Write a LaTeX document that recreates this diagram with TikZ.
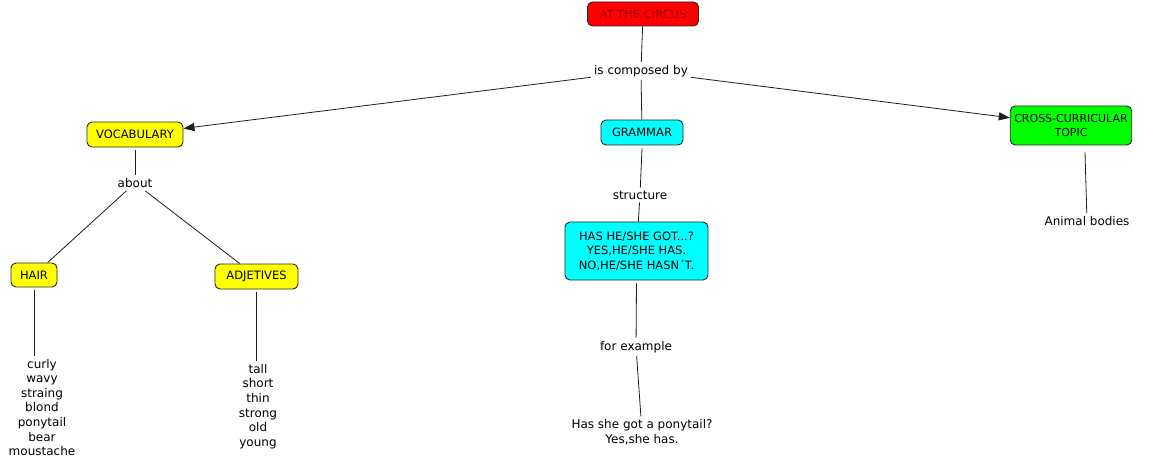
\documentclass[tikz,border=0pt]{standalone}
\usepackage{fontspec}
\setmainfont{DejaVu Sans}
\usetikzlibrary{arrows.meta}
\definecolor{boxline}{RGB}{40,40,40}
\definecolor{linkline}{RGB}{30,30,30}
\definecolor{circustext}{RGB}{150,0,0}
\definecolor{cfill}{RGB}{0,255,255}
\definecolor{yfill}{RGB}{255,255,0}
\definecolor{gfill}{RGB}{0,255,0}
\definecolor{rfill}{RGB}{255,0,0}
\tikzset{
  concept/.style={draw=boxline, line width=0.9pt, rounded corners=5pt, align=center,
    inner xsep=4pt, inner ysep=2pt, font=\fontsize{11.5}{14.5}\selectfont},
  linklabel/.style={align=center, inner sep=3pt, font=\fontsize{12}{14.5}\selectfont},
  plain/.style={align=center, inner sep=3pt, font=\fontsize{12}{14.6}\selectfont},
  conn/.style={draw=linkline, line width=0.8pt},
  arr/.style={conn, -{Triangle[length=11pt,width=8pt]}}
}
\begin{document}
\begin{tikzpicture}[x=1pt,y=-1pt]
\useasboundingbox[fill=white] (0,0) rectangle (1159,465);
% concepts
\node[concept, fill=rfill, text=circustext, minimum width=111pt, minimum height=24pt] (circus) at (643,14) {AT THE CIRCUS};
\node[concept, fill=yfill, minimum width=96pt, minimum height=25pt] (vocab) at (135,134.5) {VOCABULARY};
\node[concept, fill=cfill, minimum width=82pt, minimum height=25pt] (grammar) at (642,132.5) {GRAMMAR};
\node[concept, fill=gfill, minimum width=118pt, minimum height=39pt, font=\fontsize{11}{14.5}\selectfont] (cross) at (1071,125.5) {CROSS-CURRICULAR\\TOPIC};
\node[concept, fill=yfill, minimum width=46pt, minimum height=24pt] (hair) at (34,275) {HAIR};
\node[concept, fill=yfill, minimum width=83pt, minimum height=25pt] (adj) at (256.5,276.5) {ADJETIVES};
\node[concept, fill=cfill, minimum width=143pt, minimum height=58pt] (has) at (636.5,251) {HAS HE/SHE GOT...?\\YES,HE/SHE HAS.\\NO,HE/SHE HASN\,\'{}T.};
% linking phrases
\node[linklabel] (comp) at (641,71) {is composed by};
\node[linklabel] (about) at (135,183) {about};
\node[linklabel] (struct) at (640,195) {structure};
\node[linklabel] (forex) at (636,347) {for example};
% plain texts
\node[plain] (animal) at (1087,221) {Animal bodies};
\node[plain] (hairlist) at (42,407.5) {curly\\wavy\\straing\\blond\\ponytail\\bear\\moustache};
\node[plain] (adjlist) at (258,406.5) {tall\\short\\thin\\strong\\old\\young};
\node[plain] (example) at (642,432) {Has she got a ponytail?\\Yes,she has.};
% connectors
\draw[conn] (circus) -- (comp);
\draw[arr] (comp) -- (vocab);
\draw[arr] (comp) -- (cross);
\draw[conn] (comp) -- (grammar);
\draw[conn] ([yshift=-3pt]vocab.south) -- (about);
\draw[conn] (about) -- (hair);
\draw[conn] (about) -- (adj);
\draw[conn] ([yshift=-3pt]hair.south) -- (hair.south |- hairlist.north);
\draw[conn] ([yshift=-3pt]adj.south) -- (adj.south |- adjlist.north);
\draw[conn] ([yshift=-3pt]grammar.south) -- (struct);
\draw[conn] (struct) -- (has);
\draw[conn] ([yshift=-3pt]has.south) -- (forex);
\draw[conn] (forex) -- (example);
\draw[conn] ([xshift=14pt,yshift=-7pt]cross.south) -- (animal);
\end{tikzpicture}
\end{document}
